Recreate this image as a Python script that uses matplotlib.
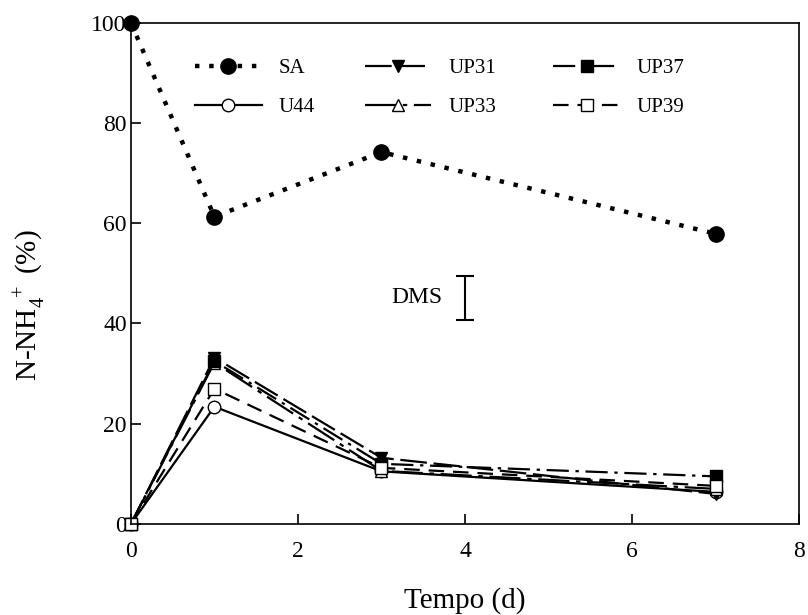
import matplotlib
matplotlib.use("Agg")
import matplotlib.pyplot as plt

plt.rcParams['font.family'] = ['Liberation Serif', 'DejaVu Serif']
plt.rcParams['mathtext.fontset'] = 'custom'
plt.rcParams['mathtext.rm'] = 'Liberation Serif'

days = [0, 1, 3, 7]
SA = [100, 61.3, 74.2, 57.9]
U44 = [0, 23.4, 10.5, 6.4]
UP31 = [0, 33.2, 13.2, 6.0]
UP33 = [0, 32.2, 10.6, 7.0]
UP37 = [0, 32.5, 12.0, 9.5]
UP39 = [0, 27.0, 11.2, 7.6]
dms_x = 4.0
dms_center = 45.1
dms_half = 4.4

fig = plt.figure(figsize=(8.08, 6.15), dpi=100)
ax = fig.add_axes([0.162, 0.148, 0.827, 0.815])

lw = 1.6
h_sa = ax.plot(days, SA, linestyle=(0, (1, 2.2)), linewidth=3.2, color='black',
               marker='o', markersize=11, markerfacecolor='black', label='SA', clip_on=False)[0]
h_u44 = ax.plot(days, U44, linestyle='-', linewidth=lw, color='black',
                marker='o', markersize=9, markerfacecolor='white', label='U44', clip_on=False)[0]
h_up31 = ax.plot(days, UP31, linestyle=(0, (12, 3)), linewidth=lw, color='black',
                 marker='v', markersize=9, markerfacecolor='black', label='UP31', clip_on=False)[0]
h_up33 = ax.plot(days, UP33, linestyle=(0, (14, 3, 2, 3)), linewidth=lw, color='black',
                 marker='^', markersize=9, markerfacecolor='white', label='UP33', clip_on=False)[0]
h_up37 = ax.plot(days, UP37, linestyle=(0, (10, 3, 1.5, 3)), linewidth=lw, color='black',
                 marker='s', markersize=8.5, markerfacecolor='black', label='UP37', clip_on=False)[0]
h_up39 = ax.plot(days, UP39, linestyle=(0, (7, 4)), linewidth=lw, color='black',
                 marker='s', markersize=9, markerfacecolor='white', label='UP39', clip_on=False)[0]

ax.errorbar([dms_x], [dms_center], yerr=[dms_half], fmt='none', ecolor='black',
            elinewidth=1.5, capsize=6.5, capthick=1.5)
ax.text(dms_x - 0.27, dms_center, 'DMS', ha='right', va='center', fontsize=17)

ax.set_xlim(0, 8)
ax.set_ylim(0, 100)
ax.set_xticks([0, 2, 4, 6, 8])
ax.set_yticks([0, 20, 40, 60, 80, 100])
ax.tick_params(direction='in', length=7, width=1.2, labelsize=17, top=False, right=False)
ax.tick_params(axis='x', pad=12)
ax.tick_params(axis='y', pad=3)
for s in ax.spines.values():
    s.set_linewidth(1.2)

ax.set_xlabel('Tempo (d)', fontsize=21, labelpad=18)
ax.set_ylabel(r'N-NH$_4^{\ +}$ (%)', fontsize=21)
ax.yaxis.set_label_coords(-0.124, 0.437)

cols = [([h_sa, h_u44], 0.096), ([h_up31, h_up33], 0.350), ([h_up37, h_up39], 0.632)]
legs = []
for handles, xpos in cols:
    leg = ax.legend(handles=handles, ncol=1, frameon=False, fontsize=15, loc='upper left',
                    bbox_to_anchor=(xpos, 0.929), borderaxespad=0, borderpad=0,
                    handlelength=3.2, handletextpad=0.8, labelspacing=0.95)
    legs.append(leg)
for leg in legs[:-1]:
    ax.add_artist(leg)

fig.savefig('out.png', dpi=100)
